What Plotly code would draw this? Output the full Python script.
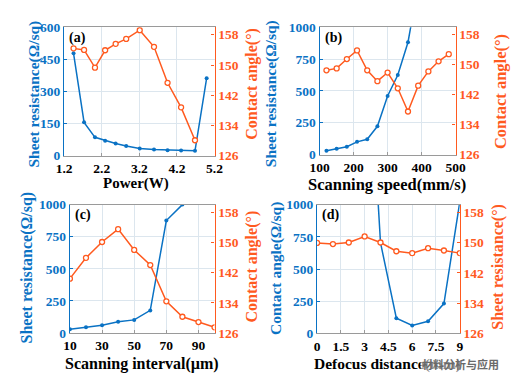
import plotly.graph_objects as go

# ---------------- data ----------------
# (a) Power
a_power_sheet = [1.45, 1.73, 2.02, 2.29, 2.57, 2.85, 3.21, 3.59, 3.95, 4.31, 4.68, 4.99]
a_sheet = [478, 156, 86, 70, 57, 46, 34, 29, 26, 25, 23, 362]
a_power_angle = [1.45, 1.73, 2.02, 2.29, 2.57, 2.85, 3.21, 3.59, 3.95, 4.31, 4.68]
a_angle = [154.4, 154.0, 149.3, 153.9, 155.6, 156.9, 159.2, 154.8, 145.3, 138.8, 130.1]

# (b) Scanning speed
b_speed_sheet = [120, 150, 180, 210, 240, 270, 300, 330, 360, 390]
b_sheet = [30, 45, 62, 100, 120, 222, 460, 625, 882, 1330]
b_speed_angle = [120, 150, 180, 210, 240, 270, 300, 330, 360, 390, 420, 450, 480]
b_angle = [148.5, 149.0, 151.5, 153.8, 148.5, 145.6, 147.9, 143.7, 137.5, 144.4, 148.2, 150.9, 152.8]

# (c) Scanning interval
c_interval_sheet = [10, 20, 30, 40, 50, 60, 70, 80]
c_sheet = [30, 45, 60, 88, 102, 176, 876, 1000]
c_interval_angle = [10, 20, 30, 40, 50, 60, 70, 80, 90, 100]
c_angle = [140.4, 145.9, 150.1, 153.5, 148.0, 144.0, 134.4, 130.3, 128.9, 127.5]

# (d) Defocus distance
d_defocus_sheet = [3, 4, 5, 6, 7, 8, 9]
d_sheet = [2800, 704, 119, 62, 95, 232, 1020]
d_defocus_angle = [0, 1, 2, 3, 4, 5, 6, 7, 8, 9]
d_angle = [149.9, 149.6, 150.0, 151.6, 150.0, 147.7, 147.2, 148.5, 147.9, 147.2]

# tick labels
a_xticks = [1.2, 2.2, 3.2, 4.2, 5.2]
a_yticks = [0, 150, 300, 450, 600]
b_xticks = [100, 200, 300, 400, 500]
c_xticks = [10, 30, 50, 70, 90]
d_xticks = [0, 1.5, 3, 4.5, 6, 7.5, 9]
d_xticktext = ["0", "1.5", "3", "4.5", "6", "7.5", "9"]
k_yticks = [0, 250, 500, 750, 1000]
angle_ticks = [126, 134, 142, 150, 158]

panel_labels = ["(a)", "(b)", "(c)", "(d)"]
x_titles = ["Power(W)", "Scanning speed(mm/s)", "Scanning interval(\u00b5m)", "Defocus distance(mm)"]
left_titles = ["Sheet resistance(\u03a9/sq)", "Sheet resistance(\u03a9/sq)",
               "Sheet resistance(\u03a9/sq)", "Contact angle(\u03a9/sq)"]
right_titles = ["Contact angle(\u00b0)", "Contact angle(\u00b0)",
                "Contact angle(\u00b0)", "Sheet resistance(\u00b0)"]
watermark = "\u6750\u6599\u5206\u6790\u4e0e\u5e94\u7528"

# ---------------- style ----------------
W, H = 522, 391
BLUE = "#0a72c4"
ORANGE = "#ff5a1f"
GRID = "#dce6ee"
FONT = "Liberation Serif"
TICK = 13.5

# pixel boxes: (left, right, top, bottom)
boxes = [(56.3, 212.7, 21.0, 154.7),
         (322.0, 463.3, 21.0, 153.5),
         (62.3, 212.7, 205.5, 339.0),
         (319.3, 467.7, 205.5, 339.5)]
# title placements in pixels: (x, y, size)
xtitle_pos = [(131, 183.5, 15), (392.5, 185, 16.5), (137.5, 371, 16), (393, 371, 15.5)]
ltitle_pos = [(24, 91, 15.5), (271, 90, 15.5), (17.5, 271, 16), (276, 272, 15.5)]
rtitle_pos = [(251.5, 80, 16), (510, 88, 16.5), (251.5, 270, 16), (507.5, 270, 16)]

fig = go.Figure()

series = [
    (a_power_sheet, a_sheet, a_power_angle, a_angle),
    (b_speed_sheet, b_sheet, b_speed_angle, b_angle),
    (c_interval_sheet, c_sheet, c_interval_angle, c_angle),
    (d_defocus_sheet, d_sheet, d_defocus_angle, d_angle),
]

for i, (xs, ys, xa, ya) in enumerate(series):
    n = i + 1
    xref = "x" if n == 1 else f"x{n}"
    yl = 2 * i + 1
    yr = 2 * i + 2
    ylref = "y" if yl == 1 else f"y{yl}"
    yrref = f"y{yr}"
    fig.add_trace(go.Scatter(x=xs, y=ys, xaxis=xref, yaxis=ylref, mode="lines+markers",
                             line=dict(color=BLUE, width=1.5),
                             marker=dict(color=BLUE, size=4, symbol="circle"),
                             showlegend=False, hoverinfo="skip"))
    fig.add_trace(go.Scatter(x=xa, y=ya, xaxis=xref, yaxis=yrref, mode="lines+markers",
                             line=dict(color=ORANGE, width=1.5),
                             marker=dict(color="white", size=5, symbol="circle",
                                         line=dict(color=ORANGE, width=1.3)),
                             showlegend=False, hoverinfo="skip"))

x_ranges = [[1.2, 5.2], [100, 500], [10, 100], [0, 9]]
x_tickvals = [a_xticks, b_xticks, c_xticks, d_xticks]
x_ticktext = [[str(v) for v in a_xticks], [str(v) for v in b_xticks],
              [str(v) for v in c_xticks], d_xticktext]
yl_ranges = [[0, 600], [0, 1000], [0, 1000], [0, 1000]]
yl_ticks = [a_yticks, k_yticks, k_yticks, k_yticks]

layout = dict(width=W, height=H, margin=dict(l=0, r=0, t=0, b=0),
              paper_bgcolor="white", plot_bgcolor="white",
              font=dict(family=FONT, size=14, color="black", weight="bold"),
              showlegend=False)

annotations = []
for i in range(4):
    n = i + 1
    L, R, T, B = boxes[i]
    xd = [L / W, R / W]
    yd = [1 - B / H, 1 - T / H]
    xkey = "xaxis" if n == 1 else f"xaxis{n}"
    yl = 2 * i + 1
    yr = 2 * i + 2
    ylkey = "yaxis" if yl == 1 else f"yaxis{yl}"
    yrkey = f"yaxis{yr}"
    ylname = "y" if yl == 1 else f"y{yl}"
    xname = "x" if n == 1 else f"x{n}"
    layout[xkey] = dict(domain=xd, anchor=ylname, range=x_ranges[i],
                        tickvals=x_tickvals[i], ticktext=x_ticktext[i],
                        showgrid=True, gridcolor=GRID, gridwidth=1,
                        showline=True, linecolor="#9a9a9a", linewidth=1, mirror=True,
                        ticks="inside", ticklen=3, tickcolor="#9a9a9a",
                        tickfont=dict(family=FONT, size=TICK, color="black", weight="bold"),
                        zeroline=False)
    layout[ylkey] = dict(domain=yd, anchor=xname, range=yl_ranges[i],
                         tickvals=yl_ticks[i],
                         showgrid=True, gridcolor=GRID, gridwidth=1,
                         showline=True, linecolor=BLUE, linewidth=1.2,
                         ticks="inside", ticklen=3, tickcolor=BLUE,
                         tickfont=dict(family=FONT, size=TICK, color=BLUE, weight="bold"),
                         zeroline=False)
    layout[yrkey] = dict(domain=yd, anchor=xname, overlaying=ylname, side="right",
                         range=[126, 160], tickvals=angle_ticks,
                         showgrid=False,
                         showline=True, linecolor=ORANGE, linewidth=1.2,
                         ticks="inside", ticklen=3, tickcolor=ORANGE,
                         tickfont=dict(family=FONT, size=TICK, color=ORANGE, weight="bold"),
                         zeroline=False)
    annotations.append(dict(x=(L + 3) / W, y=1 - (T + 11) / H, xref="paper", yref="paper",
                            text=panel_labels[i], showarrow=False, xanchor="left",
                            yanchor="middle",
                            font=dict(family=FONT, size=14, color="black", weight="bold")))
    tx, ty, ts = xtitle_pos[i]
    annotations.append(dict(x=tx / W, y=1 - ty / H, xref="paper", yref="paper",
                            text=x_titles[i], showarrow=False, xanchor="center",
                            yanchor="middle",
                            font=dict(family=FONT, size=ts, color="black", weight="bold")))
    tx, ty, ts = ltitle_pos[i]
    annotations.append(dict(x=tx / W, y=1 - ty / H, xref="paper", yref="paper",
                            text=left_titles[i], showarrow=False, xanchor="center",
                            yanchor="middle", textangle=-90,
                            font=dict(family=FONT, size=ts, color=BLUE, weight="bold")))
    tx, ty, ts = rtitle_pos[i]
    annotations.append(dict(x=tx / W, y=1 - ty / H, xref="paper", yref="paper",
                            text=right_titles[i], showarrow=False, xanchor="center",
                            yanchor="middle", textangle=-90,
                            font=dict(family=FONT, size=ts, color=ORANGE, weight="bold")))

# watermark
annotations.append(dict(x=468 / W, y=1 - 371 / H, xref="paper", yref="paper",
                        text=watermark, showarrow=False,
                        xanchor="center", yanchor="middle", bgcolor="rgba(255,255,255,0.55)",
                        font=dict(family="Noto Sans CJK SC", size=11, color="#6a6a6a")))

layout["annotations"] = annotations
fig.update_layout(**layout)
fig.write_html("out.html", config={"displayModeBar": False},
               post_script="document.body.style.margin='0';document.body.style.overflow='hidden';")
